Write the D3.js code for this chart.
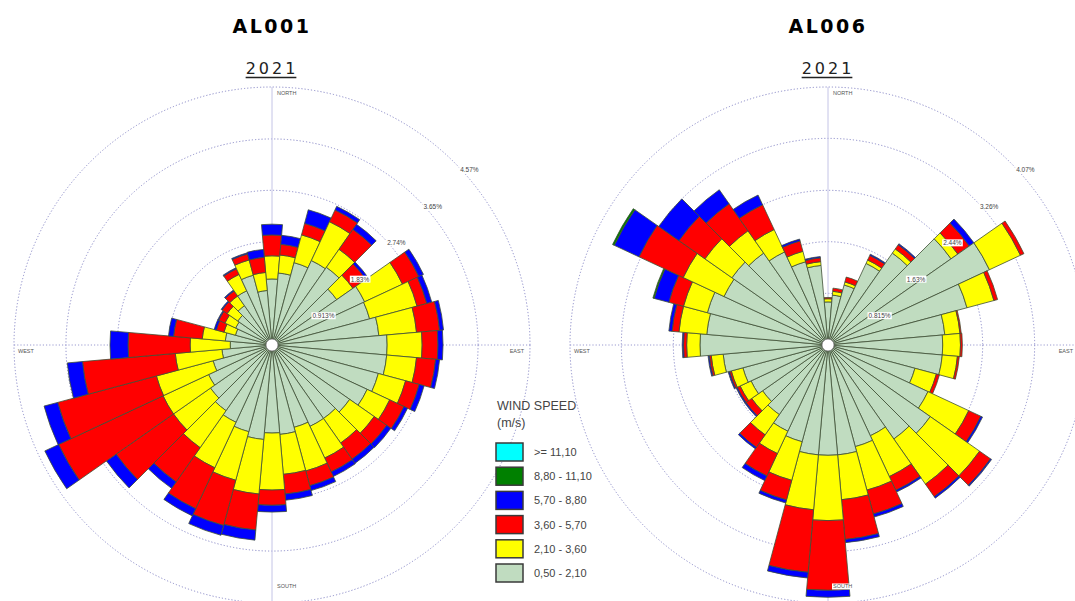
<!DOCTYPE html>
<html>
<head>
<meta charset="utf-8">
<script src="https://cdn.jsdelivr.net/npm/d3@7"></script>
<style>
  html, body { margin: 0; padding: 0; background: #ffffff; }
  svg { display: block; }
</style>
</head>
<body>
<svg id="chart" width="1075" height="601"></svg>
<script>
// Direction sectors (degrees clockwise from north), 10° wide
const directions = d3.range(0, 360, 10);

// Speed classes, slowest first (stacking order from the centre outwards)
const speedClasses = ["0,50 - 2,10", "2,10 - 3,60", "3,60 - 5,70", "5,70 - 8,80", "8,80 - 11,10", ">= 11,10"];
const speedColors  = ["#c0dcc0", "#ffff00", "#ff0000", "#0000ff", "#008000", "#00ffff"];

// Station AL001 — frequency (%) per direction for each speed class
const al001_s1 = [1.17,1.28,1.51,1.65,1.68,1.40,1.81,1.79,1.90,2.04,2.04,1.95,1.86,1.68,1.59,1.59,1.51,1.59,1.56,1.68,1.59,1.51,1.42,1.33,1.24,1.08,0.89,0.74,0.83,0.67,0.71,0.74,0.85,1.06,1.28,0.97];
const al001_s2 = [0.41,0.32,0.51,0.76,0.39,0.35,0.74,0.87,0.67,0.62,0.53,0.50,0.44,0.53,0.53,0.62,0.80,0.71,1.01,0.97,0.89,0.89,0.80,0.80,0.89,1.04,0.83,0.71,0.41,0.21,0.21,0.23,0.21,0.32,0.28,0.32];
const al001_s3 = [0.37,0.19,0.21,0.23,0.43,0.28,0.32,0.18,0.41,0.28,0.34,0.25,0.28,0.27,0.35,0.27,0.27,0.35,0.27,0.64,0.83,0.80,0.74,1.24,2.04,1.81,1.65,1.10,0.51,0.14,0.12,0.11,0.11,0.11,0.11,0.27];
const al001_s4 = [0.19,0.16,0.25,0.07,0.11,0.05,0.09,0.09,0.07,0.09,0.07,0.09,0.07,0.09,0.09,0.09,0.09,0.11,0.12,0.18,0.18,0.14,0.14,0.21,0.27,0.25,0.27,0.32,0.09,0.04,0.02,0.02,0.02,0.02,0.02,0.14];
const al001_s5 = [0,0,0,0,0,0,0,0,0,0,0,0,0,0,0,0,0,0,0,0,0,0,0,0,0,0,0,0,0,0,0,0,0,0,0,0];
const al001_s6 = [0,0,0,0,0,0,0,0,0,0,0,0,0,0,0,0,0,0,0,0,0,0,0,0,0,0,0,0,0,0,0,0,0,0,0,0];
const al001_rings = [0.913, 1.83, 2.74, 3.65, 4.57];
const al001_ringLabels = ["0.913%", "1.83%", "2.74%", "3.65%", "4.57%"];

// Station AL006 — frequency (%) per direction for each speed class
const al006_s1 = [0.68,0.79,0.98,1.42,1.77,2.37,2.81,2.27,1.85,1.81,1.81,1.42,1.74,1.97,1.81,1.58,1.66,1.74,1.74,1.74,1.58,1.50,1.34,1.26,1.34,1.39,1.66,2.02,1.92,1.97,1.81,1.85,1.77,1.62,1.36,1.26];
const al006_s2 = [0.05,0.06,0.05,0.06,0.08,0.13,0.54,0.44,0.24,0.28,0.24,0.35,0.71,0.95,0.87,0.71,0.71,0.71,1.03,0.87,0.63,0.39,0.39,0.21,0.19,0.19,0.19,0.21,0.44,0.39,0.71,0.52,0.43,0.39,0.17,0.06];
const al006_s3 = [0.02,0.05,0.08,0.08,0.08,0.22,0.06,0.06,0.02,0.03,0.03,0.05,0.21,0.21,0.24,0.24,0.39,0.63,1.10,0.99,0.32,0.39,0.24,0.11,0.05,0.03,0.03,0.05,0.11,0.24,0.77,0.50,0.52,0.43,0.17,0.06];
const al006_s4 = [0,0,0,0.02,0.02,0.09,0,0,0,0,0,0,0.03,0.02,0.03,0.03,0.05,0.05,0.11,0.09,0.05,0.08,0.03,0.02,0.02,0.02,0.02,0.02,0.05,0.24,0.43,0.39,0.27,0.17,0.03,0.02];
const al006_s5 = [0,0,0,0,0,0,0,0,0,0,0,0,0,0,0,0,0,0,0,0,0,0,0,0,0,0,0,0,0,0.02,0.03,0,0,0,0,0];
const al006_s6 = [0,0,0,0,0,0,0,0,0,0,0,0,0,0,0,0,0,0,0,0,0,0,0,0,0,0,0,0,0,0,0,0,0,0,0,0];
const al006_rings = [0.815, 1.63, 2.44, 3.26, 4.07];
const al006_ringLabels = ["0.815%", "1.63%", "2.44%", "3.26%", "4.07%"];

const compassLabels = ["NORTH", "EAST", "SOUTH", "WEST"];

const stations = [
  { name: "AL001", year: "2021", cx: 272, series: [al001_s1, al001_s2, al001_s3, al001_s4, al001_s5, al001_s6], rings: al001_rings, ringLabels: al001_ringLabels },
  { name: "AL006", year: "2021", cx: 828, series: [al006_s1, al006_s2, al006_s3, al006_s4, al006_s5, al006_s6], rings: al006_rings, ringLabels: al006_ringLabels }
];

const svg = d3.select("#chart");
const W = 1075;
const cy = 345;
const outerR = 258;
const holeR = 6;
const rad = Math.PI / 180;
const diag = Math.SQRT1_2;

stations.forEach(st => {
  const g = svg.append("g").attr("transform", `translate(${st.cx},${cy})`);
  const r = d3.scaleLinear().domain([0, d3.max(st.rings)]).range([0, outerR]);

  // Reference rings
  g.selectAll("circle.ring").data(st.rings).join("circle")
    .attr("class", "ring")
    .attr("r", d => r(d))
    .attr("fill", "none")
    .attr("stroke", "#8a8ac8")
    .attr("stroke-width", 1)
    .attr("stroke-dasharray", "1.2,2");

  // Cardinal axes
  g.append("line").attr("x1", 0).attr("x2", 0).attr("y1", -outerR).attr("y2", outerR)
    .attr("stroke", "#c4c4e6").attr("stroke-width", 1);
  g.append("line").attr("x1", -outerR).attr("x2", outerR).attr("y1", 0).attr("y2", 0)
    .attr("stroke", "#9a9ad0").attr("stroke-width", 1).attr("stroke-dasharray", "1.2,2");

  // Stacked sectors
  const arc = d3.arc();
  directions.forEach((dir, i) => {
    let cum = 0;
    st.series.forEach((s, k) => {
      const v = s[i];
      if (v <= 0) return;
      const inner = k === 0 ? holeR : r(cum);
      cum += v;
      const outer = r(cum);
      g.append("path")
        .attr("d", arc({ innerRadius: inner, outerRadius: outer, startAngle: (dir - 5) * rad, endAngle: (dir + 5) * rad }))
        .attr("fill", speedColors[k])
        .attr("stroke", "#3f4f35")
        .attr("stroke-width", 0.8)
        .attr("stroke-linejoin", "round");
    });
  });

  // Calm centre
  g.append("circle").attr("r", holeR).attr("fill", "#ffffff").attr("stroke", "#777").attr("stroke-width", 0.8);

  // Ring value labels, set just below-right of each ring's 45° point
  st.rings.forEach((v, j) => {
    const rr = r(v);
    const x = rr * diag + 15, y = -rr * diag + 8;
    const t = g.append("text").attr("x", x).attr("y", y)
      .attr("text-anchor", "middle").attr("dominant-baseline", "middle")
      .attr("font-family", "Liberation Sans, Arial, sans-serif").attr("font-size", 6.5)
      .attr("fill", "#444").text(st.ringLabels[j]);
    const bb = t.node().getBBox();
    g.insert("rect", () => t.node())
      .attr("x", bb.x - 1).attr("y", bb.y).attr("width", bb.width + 2).attr("height", bb.height)
      .attr("fill", "#ffffff");
  });

  // Compass labels
  const eastX = Math.min(outerR - 6, W - 2 - st.cx);
  const cPos = [[5, -outerR + 7, "start"], [eastX, 7, "end"], [5, outerR - 16, "start"], [-outerR + 4, 7, "start"]];
  compassLabels.forEach((lab, j) => {
    const t = g.append("text").attr("x", cPos[j][0]).attr("y", cPos[j][1])
      .attr("text-anchor", cPos[j][2]).attr("dominant-baseline", "middle")
      .attr("font-family", "Liberation Sans, Arial, sans-serif").attr("font-size", 5.5)
      .attr("fill", "#555").text(lab);
    const bb = t.node().getBBox();
    g.insert("rect", () => t.node())
      .attr("x", bb.x - 1).attr("y", bb.y).attr("width", bb.width + 2).attr("height", bb.height)
      .attr("fill", "#ffffff");
  });

  // Station title and year
  svg.append("text").attr("x", st.cx).attr("y", 33).attr("text-anchor", "middle")
    .attr("font-family", "DejaVu Sans, Verdana, sans-serif").attr("font-weight", "bold")
    .attr("font-size", 19).attr("letter-spacing", 2.5).attr("fill", "#000").text(st.name);
  const yr = svg.append("text").attr("x", st.cx).attr("y", 74).attr("text-anchor", "middle")
    .attr("font-family", "DejaVu Sans, Verdana, sans-serif")
    .attr("font-size", 16).attr("letter-spacing", 3).attr("fill", "#222").text(st.year);
  const yb = yr.node().getBBox();
  svg.append("line").attr("x1", yb.x).attr("x2", yb.x + yb.width - 2).attr("y1", 77.5).attr("y2", 77.5)
    .attr("stroke", "#222").attr("stroke-width", 1.5);
});

// Legend
const lg = svg.append("g").attr("transform", "translate(495,0)");
lg.append("text").attr("x", 2).attr("y", 410).attr("font-family", "Liberation Sans, Arial, sans-serif")
  .attr("font-size", 12.5).attr("fill", "#444").text("WIND SPEED");
lg.append("text").attr("x", 2).attr("y", 427).attr("font-family", "Liberation Sans, Arial, sans-serif")
  .attr("font-size", 12.5).attr("fill", "#444").text("(m/s)");
const legendOrder = d3.range(speedClasses.length).reverse();
legendOrder.forEach((k, j) => {
  const y0 = 443 + j * 24.2;
  lg.append("rect").attr("x", 1).attr("y", y0).attr("width", 27).attr("height", 18)
    .attr("fill", speedColors[k]).attr("stroke", "#3a3a3a").attr("stroke-width", 1.5);
  lg.append("text").attr("x", 39).attr("y", y0 + 13).attr("font-family", "Liberation Sans, Arial, sans-serif")
    .attr("font-size", 11).attr("fill", "#444").text(speedClasses[k]);
});
</script>
</body>
</html>
